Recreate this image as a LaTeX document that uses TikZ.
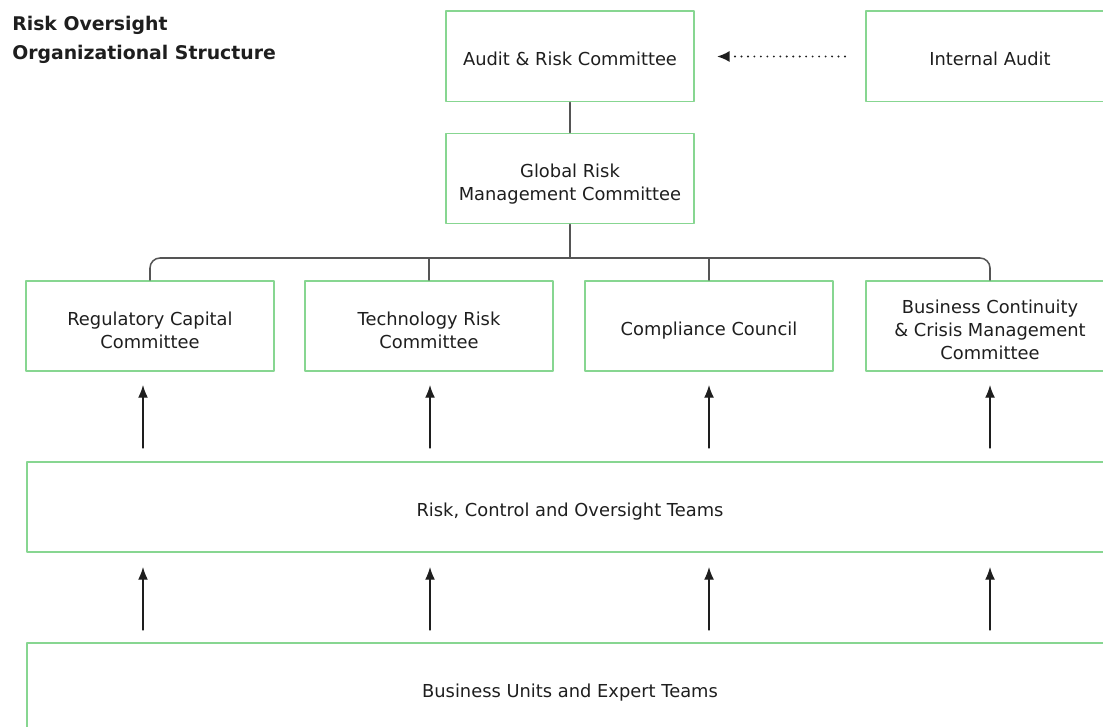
\documentclass[tikz,border=0pt]{standalone}
\usepackage{fontspec}
\setmainfont{DejaVu Sans}
\usetikzlibrary{arrows.meta}
\definecolor{boxgreen}{RGB}{135,214,145}
\definecolor{linegray}{RGB}{85,85,85}
\definecolor{txt}{RGB}{30,30,30}
\tikzset{
  box/.style={draw=boxgreen, line width=1.4pt, minimum width=6.2cm, minimum height=2.25cm,
    align=center, text=txt, font=\fontsize{12.7}{16.4}\selectfont, text depth=0pt, text height=13.4pt},
  twoline/.style={text height=31.9pt},
  threeline/.style={text height=48.3pt},
  wide/.style={box, minimum width=27.15cm},
  link/.style={draw=linegray, line width=1.1pt},
  uparrow/.style={->, draw=txt, line width=0.9pt},
}
\begin{document}
\begin{tikzpicture}[line cap=round,line join=round,>={Latex[length=9pt,width=7pt]},x=0.025cm,y=-0.025cm]
\useasboundingbox (0,0) rectangle (1103,727);
\clip (0,0) rectangle (1103,727);
% title
\node [anchor=north west, inner sep=0, align=left, text=txt,
  font=\bfseries\fontsize{13.4}{20.5}\selectfont] (title) at (12,16) {Risk Oversight\\Organizational Structure};
% top level
\node [box] (arc) at (570,56.5) {Audit \& Risk Committee};
\node [box] (ia) at (990,56.5) {Internal Audit};
\node [box, twoline] (grmc) at (570,178.5) {Global Risk\\Management Committee};
% committees
\node [box, twoline] (rcc) at (150,326) {Regulatory Capital\\Committee};
\node [box, twoline] (trc) at (429,326) {Technology Risk\\Committee};
\node [box] (cc) at (709,326) {Compliance Council};
\node [box, threeline] (bccm) at (990,326) {Business Continuity\\\& Crisis Management\\Committee};
% teams
\node [wide] (rcot) at (570,507) {Risk, Control and Oversight Teams};
\node [wide] (buet) at (570,688) {Business Units and Expert Teams};
% connectors
\draw [link] (arc) -- (grmc);
\coordinate (split) at (570,258);
\draw [link] (grmc) -- (split);
\draw [link, rounded corners=0.25cm] (rcc.north) |- (split) -| (bccm.north);
\draw [link] (trc.north) -- (trc.north |- split);
\draw [link] (cc.north) -- (cc.north |- split);
% reporting line from internal audit
\draw [-{Latex[length=9pt,width=8pt]}, draw=txt, line width=1.5pt, dash pattern=on 0pt off 4.6pt,
  shorten >=0.55cm, shorten <=0.5cm] (ia) -- (arc);
% upward arrows
\foreach \n/\x in {1/143,2/430,3/709,4/990} {
  \coordinate (lo\n) at (\x,448);
  \coordinate (hi\n) at (\x,385);
  \draw [uparrow] (lo\n) -- (hi\n);
  \coordinate (blo\n) at (\x,630);
  \coordinate (bhi\n) at (\x,567);
  \draw [uparrow] (blo\n) -- (bhi\n);
}
\end{tikzpicture}
\end{document}
